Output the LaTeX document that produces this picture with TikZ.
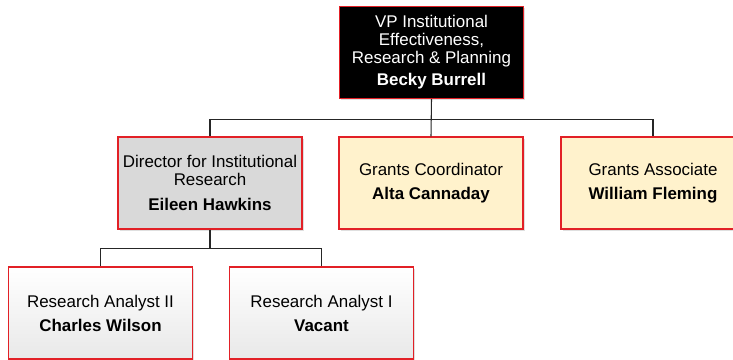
\documentclass[tikz,border=0pt]{standalone}
\usepackage{fontspec}
\setmainfont{Liberation Sans}
\usetikzlibrary{shadows}
\usepackage{xcolor}
\definecolor{postred}{RGB}{226,32,38}
\definecolor{dirgray}{RGB}{217,217,217}
\definecolor{grantbg}{RGB}{255,242,204}

\begin{document}
\begin{tikzpicture}[x=0.75pt,y=-0.75pt,
  post/.style={draw=postred, line width=0.9pt, minimum width=138pt, minimum height=69pt,
    align=center, font=\fontsize{12.7}{13.5}\selectfont,
    drop shadow={shadow xshift=1.2pt,shadow yshift=-1.2pt,fill=black!25}},
  link/.style={draw=black!85, line width=0.8pt}]
\useasboundingbox (0,0) rectangle (733,360);
% top
\node [post, fill=black, text=white] (vp) at (431.5,52.5)
  {VP Institutional\\Effectiveness,\\Research \& Planning\\[3pt]\textbf{Becky Burrell}};
% second row
\node [post, fill=dirgray] (dir) at (210,183)
  {Director for Institutional\\Research\\[5pt]\textbf{Eileen Hawkins}};
\node [post, fill=grantbg] (coord) at (431,183)
  {Grants Coordinator\\[4.5pt]\textbf{Alta Cannaday}};
\node [post, fill=grantbg] (assoc) at (653,183)
  {Grants Associate\\[4.5pt]\textbf{William Fleming}};
% analysts
\node [post, top color=white, bottom color=black!9] (ra2) at (100.5,313)
  {Research Analyst II\\[4.5pt]\textbf{Charles Wilson}};
\node [post, top color=white, bottom color=black!9] (ra1) at (321.5,313)
  {Research Analyst I\\[4.5pt]\textbf{Vacant}};
% lines
\draw [link] (vp.south) -- (coord.north);
\draw [link] (vp.south) -- ++(0,20) -| (dir.north);
\draw [link] (vp.south) -- ++(0,20) -| (assoc.north);
\draw [link] (dir.south) -- ++(0,19) -| (ra2.north);
\draw [link] (dir.south) -- ++(0,19) -| (ra1.north);
\end{tikzpicture}
\end{document}
